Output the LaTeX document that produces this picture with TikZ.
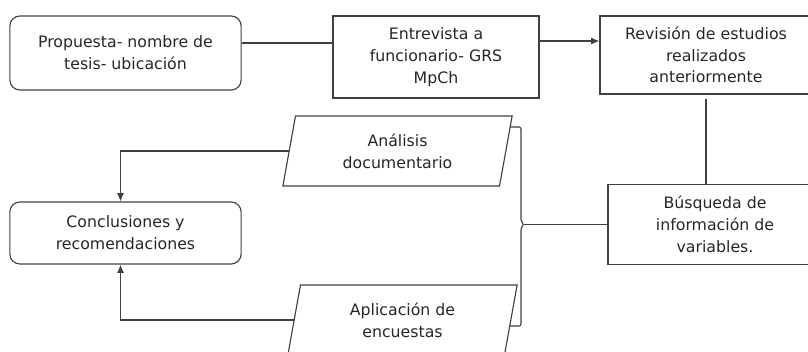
\documentclass[tikz,border=0pt]{standalone}
\usepackage{fontspec}
\setmainfont{DejaVu Sans}
\usetikzlibrary{shapes.geometric,calc,arrows.meta}

\begin{document}
\begin{tikzpicture}[x=0.025cm,y=-0.025cm,
    every node/.style={text=black!85,font=\fontsize{11.2}{15.5}\selectfont,align=center,line width=0.8pt,draw=black!75},
    roundbox/.style={draw,rounded corners=0.25cm,minimum width=5.78cm},
    plainbox/.style={draw,minimum width=5.3cm},
    databox/.style={draw,trapezium,trapezium left angle=74,trapezium right angle=106,
       trapezium stretches body,minimum width=5.73cm,minimum height=1.75cm},
    flow/.style={draw=black!75,line width=0.8pt},
    tip/.style={-{Latex[length=2.1mm,width=1.8mm]}}]
  \clip (0,0) rectangle (808,352);
  \node[roundbox,minimum height=1.85cm] (prop) at (125.5,53) {Propuesta- nombre de\\tesis- ubicación};
  \node[plainbox,minimum width=5.15cm,minimum height=2.05cm] (entr) at (436,57) {Entrevista a\\funcionario- GRS\\MpCh};
  \node[plainbox,minimum height=1.95cm] (revi) at (706,55) {Revisión de estudios\\realizados\\anteriormente};
  \node[plainbox,minimum width=5.35cm,minimum height=1.98cm] (busq) at (715,224.5) {Búsqueda de\\información de\\variables.};
  \node[roundbox,minimum height=1.55cm] (concl) at (125.5,233) {Conclusiones y\\recomendaciones};
  \node[databox] (anal) at (397.5,151) {Análisis\\documentario};
  \node[databox] (apli) at (402.5,320) {Aplicación de\\encuestas};
  \coordinate (brace) at (524,224.5);
  % connectors
  \draw[flow] (prop.east |- 0,43) -- (entr.west |- 0,43);
  \draw[flow,tip] (entr.east |- 0,41) -- (revi.west |- 0,41);
  \draw[flow,shorten <=4\pgflinewidth] (revi.south) -- (revi.south |- busq.north);
  \draw[flow] (brace) -- (busq.west);
  \draw[flow,rounded corners=0.05cm] (510,127) -- (521,127) -- (521,221.5) -- (brace)
       -- (521,227.5) -- (521,326) -- (509,326);
  \draw[flow,tip] (anal.west) -| ($(concl.north)+(-5,0)$);
  \draw[flow,tip] (apli.west) -| ($(concl.south)+(-5,0)$);
\end{tikzpicture}
\end{document}
